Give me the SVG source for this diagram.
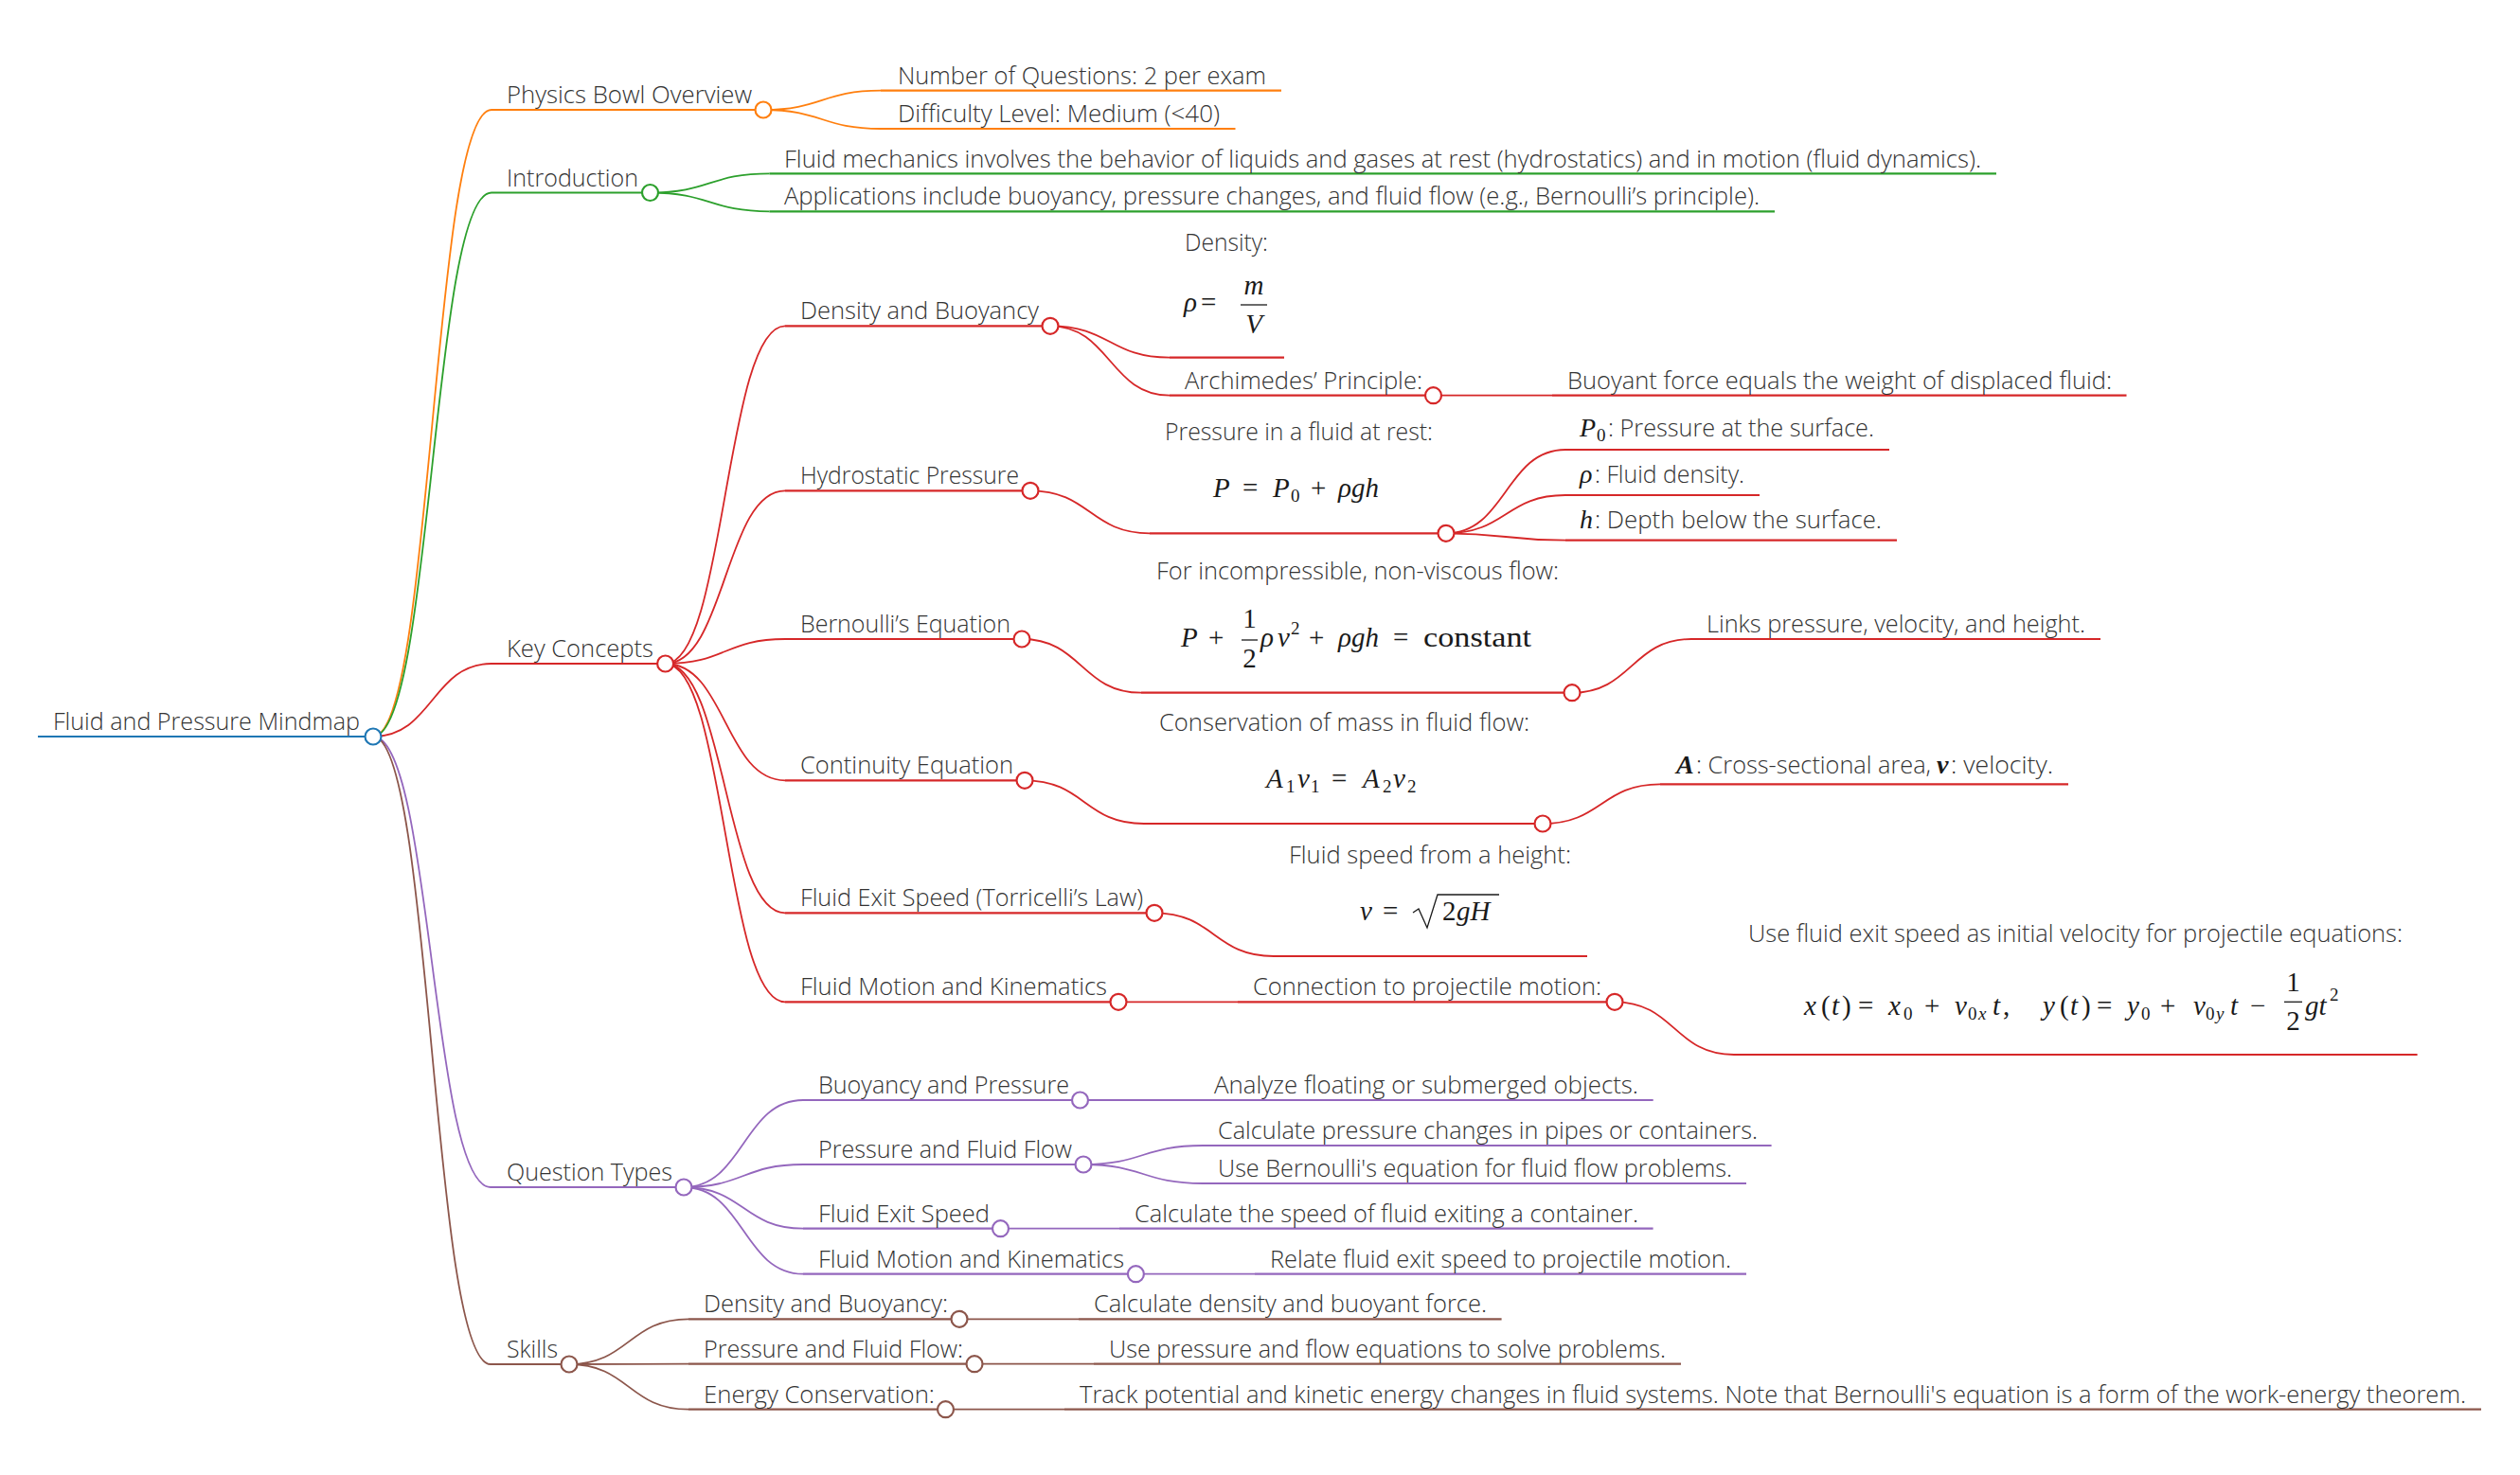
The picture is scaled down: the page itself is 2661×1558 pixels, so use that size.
<svg xmlns="http://www.w3.org/2000/svg" width="2661" height="1558" viewBox="0 0 2661 1558">
<style>
.t{font-family:"Open Sans","Segoe UI","Noto Sans",sans-serif;font-weight:300;font-size:25px;fill:#333}
.m{font-family:"Liberation Serif","DejaVu Serif",serif;font-size:29px;fill:#1a1a1a}
.mi{font-family:"Liberation Serif","DejaVu Serif",serif;font-size:28px;fill:#1a1a1a;font-style:italic}
.i{font-style:italic}
.s{font-size:19px}
.u{fill:none;stroke-width:2.2}
.l{fill:none;stroke-width:1.8}
.c{fill:#fff;stroke-width:2.2}
.bar{stroke:#1a1a1a;stroke-width:1.3;fill:none}
.b{stroke:#1f77b4}.o{stroke:#ff7f0e}.g{stroke:#2ca02c}.r{stroke:#d62728}.p{stroke:#9467bd}.n{stroke:#8c564b}
</style>
<rect width="2661" height="1558" fill="#fff"/>
<g id="connectors">
<path class="l o" d="M394,778 C456.5,778 456.5,116 519,116"/>
<path class="l g" d="M394,778 C456.5,778 456.5,203.5 519,203.5"/>
<path class="l r" d="M394,778 C456.5,778 456.5,701 519,701"/>
<path class="l p" d="M394,778 C456,778 456,1254 518,1254"/>
<path class="l n" d="M394,778 C456,778 456,1441 518,1441"/>
<path class="l o" d="M806,116 C868,116 868,95.7 930,95.7"/>
<path class="l o" d="M806,116 C868,116 868,136 930,136"/>
<path class="l g" d="M686.5,203.5 C749.5,203.5 749.5,183.3 812.5,183.3"/>
<path class="l g" d="M686.5,203.5 C749.5,203.5 749.5,223.3 812.5,223.3"/>
<path class="l r" d="M702.6,701 C765.8,701 765.8,344.3 829,344.3"/>
<path class="l r" d="M702.6,701 C765.8,701 765.8,518.3 829,518.3"/>
<path class="l r" d="M702.6,701 C765.8,701 765.8,675 829,675"/>
<path class="l r" d="M702.6,701 C765.8,701 765.8,824.3 829,824.3"/>
<path class="l r" d="M702.6,701 C765.8,701 765.8,964.3 829,964.3"/>
<path class="l r" d="M702.6,701 C765.8,701 765.8,1058.3 829,1058.3"/>
<path class="l r" d="M1109,344.3 C1172,344.3 1172,377.7 1235,377.7"/>
<path class="l r" d="M1109,344.3 C1172,344.3 1172,417.7 1235,417.7"/>
<path class="l r" d="M1513.5,417.7 H1639"/>
<path class="l r" d="M1088,518.3 C1151,518.3 1151,563.3 1214,563.3"/>
<path class="l r" d="M1527,563.3 C1590,563.3 1590,475 1653,475"/>
<path class="l r" d="M1527,563.3 C1590,563.3 1590,523 1653,523"/>
<path class="l r" d="M1527,563.3 C1590,563.3 1590,570.7 1653,570.7"/>
<path class="l r" d="M1079,675 C1142,675 1142,731.7 1205,731.7"/>
<path class="l r" d="M1660,731.7 C1723,731.7 1723,675 1786,675"/>
<path class="l r" d="M1082,824.3 C1145,824.3 1145,870 1208,870"/>
<path class="l r" d="M1629,870 C1691,870 1691,828.3 1753,828.3"/>
<path class="l r" d="M1219,964.3 C1282,964.3 1282,1010 1345,1010"/>
<path class="l r" d="M1181,1058.3 H1307"/>
<path class="l r" d="M1705,1058.3 C1768,1058.3 1768,1114 1831,1114"/>
<path class="l p" d="M722,1254 C785,1254 785,1162 848,1162"/>
<path class="l p" d="M722,1254 C785,1254 785,1230 848,1230"/>
<path class="l p" d="M722,1254 C785,1254 785,1297.7 848,1297.7"/>
<path class="l p" d="M722,1254 C785,1254 785,1345.7 848,1345.7"/>
<path class="l p" d="M1140.5,1162 H1266"/>
<path class="l p" d="M1144,1230 C1207,1230 1207,1210 1270,1210"/>
<path class="l p" d="M1144,1230 C1207,1230 1207,1250 1270,1250"/>
<path class="l p" d="M1056.5,1297.7 H1182"/>
<path class="l p" d="M1199.4,1345.7 H1325"/>
<path class="l n" d="M601,1441 C664,1441 664,1393.3 727,1393.3"/>
<path class="l n" d="M601,1441 C664,1441 664,1440.7 727,1440.7"/>
<path class="l n" d="M601,1441 C664,1441 664,1488.7 727,1488.7"/>
<path class="l n" d="M1013,1393.3 H1139"/>
<path class="l n" d="M1029,1440.7 H1155"/>
<path class="l n" d="M998.5,1488.7 H1124"/>
</g>

<g id="root">
<path class="u b" d="M40,778 H394" stroke-width="3"/>
<text class="t" x="56" y="771" textLength="324" lengthAdjust="spacingAndGlyphs">Fluid and Pressure Mindmap</text>
<circle class="c b" cx="394" cy="778" r="8.5"/>
</g>

<g id="physics-bowl">
<path class="u o" d="M519,116 H806"/>
<text class="t" x="535" y="109" textLength="259" lengthAdjust="spacingAndGlyphs">Physics Bowl Overview</text>
<circle class="c o" cx="806" cy="116" r="8.5"/>
</g>
<g id="pb-questions">
<path class="u o" d="M930,95.7 H1353"/>
<text class="t" x="948" y="89" textLength="389" lengthAdjust="spacingAndGlyphs">Number of Questions: 2 per exam</text>
</g>
<g id="pb-difficulty">
<path class="u o" d="M930,136 H1304.5"/>
<text class="t" x="948" y="129" textLength="340" lengthAdjust="spacingAndGlyphs">Difficulty Level: Medium (&lt;40)</text>
</g>

<g id="introduction">
<path class="u g" d="M519,203.5 H686.5"/>
<text class="t" x="535" y="196.5" textLength="139" lengthAdjust="spacingAndGlyphs">Introduction</text>
<circle class="c g" cx="686.5" cy="203.5" r="8.5"/>
</g>
<g id="intro-1">
<path class="u g" d="M812.5,183.3 H2108"/>
<text class="t" x="828" y="176.5" textLength="1264" lengthAdjust="spacingAndGlyphs">Fluid mechanics involves the behavior of liquids and gases at rest (hydrostatics) and in motion (fluid dynamics).</text>
</g>
<g id="intro-2">
<path class="u g" d="M812.5,223.3 H1874"/>
<text class="t" x="828" y="216" textLength="1030" lengthAdjust="spacingAndGlyphs">Applications include buoyancy, pressure changes, and fluid flow (e.g., Bernoulli’s principle).</text>
</g>

<g id="key-concepts">
<path class="u r" d="M519,701 H702.6"/>
<text class="t" x="535" y="694" textLength="155" lengthAdjust="spacingAndGlyphs">Key Concepts</text>
<circle class="c r" cx="702.6" cy="701" r="8.5"/>
</g>

<g id="density-buoyancy">
<path class="u r" d="M829,344.3 H1109"/>
<text class="t" x="845" y="337" textLength="252" lengthAdjust="spacingAndGlyphs">Density and Buoyancy</text>
<circle class="c r" cx="1109" cy="344.3" r="8.5"/>
</g>
<g id="density-formula">
<path class="u r" d="M1235,377.7 H1356"/>
<text class="t" x="1251" y="265" textLength="88" lengthAdjust="spacingAndGlyphs">Density:</text>
<text class="m i" x="1250" y="329">ρ</text>
<text class="m" x="1268" y="329">=</text>
<text class="m i" x="1324" y="310.7" text-anchor="middle">m</text>
<line class="bar" x1="1310" y1="322" x2="1338" y2="322"/>
<text class="m i" x="1324" y="351.7" text-anchor="middle">V</text>
</g>
<g id="archimedes">
<path class="u r" d="M1235,417.7 H1513.5"/>
<text class="t" x="1251" y="410.7" textLength="251" lengthAdjust="spacingAndGlyphs">Archimedes’ Principle:</text>
<circle class="c r" cx="1513.5" cy="417.7" r="8.5"/>
</g>
<g id="buoyant-force">
<path class="u r" d="M1639,417.7 H2245.5"/>
<text class="t" x="1655" y="410.7" textLength="575" lengthAdjust="spacingAndGlyphs">Buoyant force equals the weight of displaced fluid:</text>
</g>

<g id="hydrostatic">
<path class="u r" d="M829,518.3 H1088"/>
<text class="t" x="845" y="511" textLength="231" lengthAdjust="spacingAndGlyphs">Hydrostatic Pressure</text>
<circle class="c r" cx="1088" cy="518.3" r="8.5"/>
</g>
<g id="hydro-formula">
<path class="u r" d="M1214,563.3 H1527"/>
<text class="t" x="1230" y="465" textLength="283" lengthAdjust="spacingAndGlyphs">Pressure in a fluid at rest:</text>
<text class="m" y="525"><tspan class="i" x="1281">P</tspan><tspan x="1312">=</tspan><tspan class="i" x="1344">P</tspan><tspan class="s" x="1363" dy="5">0</tspan><tspan x="1384" dy="-5">+</tspan><tspan class="i" x="1413">ρgh</tspan></text>
<circle class="c r" cx="1527" cy="563.3" r="8.5"/>
</g>
<g id="p0">
<path class="u r" d="M1653,475 H1995"/>
<text class="mi" x="1668" y="460.7">P</text><text class="m s" x="1686" y="466">0</text>
<text class="t" x="1698" y="460.7" textLength="281" lengthAdjust="spacingAndGlyphs">: Pressure at the surface.</text>
</g>
<g id="rho">
<path class="u r" d="M1653,523 H1858"/>
<text class="mi" x="1668" y="510">ρ</text>
<text class="t" x="1684" y="510" textLength="158" lengthAdjust="spacingAndGlyphs">: Fluid density.</text>
</g>
<g id="h-depth">
<path class="u r" d="M1653,570.7 H2003"/>
<text class="mi" x="1668" y="557.7">h</text>
<text class="t" x="1684" y="557.7" textLength="303" lengthAdjust="spacingAndGlyphs">: Depth below the surface.</text>
</g>

<g id="bernoulli">
<path class="u r" d="M829,675 H1079"/>
<text class="t" x="845" y="668" textLength="222" lengthAdjust="spacingAndGlyphs">Bernoulli’s Equation</text>
<circle class="c r" cx="1079" cy="675" r="8.5"/>
</g>
<g id="bernoulli-formula">
<path class="u r" d="M1205,731.7 H1660"/>
<text class="t" x="1221" y="611.7" textLength="425" lengthAdjust="spacingAndGlyphs">For incompressible, non-viscous flow:</text>
<text class="m" y="683"><tspan class="i" x="1247">P</tspan><tspan x="1276">+</tspan><tspan class="i" x="1331">ρ</tspan><tspan class="i" x="1349">v</tspan><tspan class="s" x="1363" dy="-13">2</tspan><tspan x="1382" dy="13">+</tspan><tspan class="i" x="1413">ρgh</tspan><tspan x="1471">=</tspan></text>
<text class="m" x="1503" y="683" textLength="114" lengthAdjust="spacingAndGlyphs">constant</text>
<text class="m" x="1319.5" y="663" text-anchor="middle">1</text>
<line class="bar" x1="1311" y1="676" x2="1328" y2="676"/>
<text class="m" x="1319.5" y="705" text-anchor="middle">2</text>
<circle class="c r" cx="1660" cy="731.7" r="8.5"/>
</g>
<g id="links-pvh">
<path class="u r" d="M1786,675 H2218"/>
<text class="t" x="1802" y="668" textLength="400" lengthAdjust="spacingAndGlyphs">Links pressure, velocity, and height.</text>
</g>

<g id="continuity">
<path class="u r" d="M829,824.3 H1082"/>
<text class="t" x="845" y="817" textLength="225" lengthAdjust="spacingAndGlyphs">Continuity Equation</text>
<circle class="c r" cx="1082" cy="824.3" r="8.5"/>
</g>
<g id="continuity-formula">
<path class="u r" d="M1208,870 H1629"/>
<text class="t" x="1224" y="771.7" textLength="391" lengthAdjust="spacingAndGlyphs">Conservation of mass in fluid flow:</text>
<text class="m" y="831.7"><tspan class="i" x="1337">A</tspan><tspan class="s" x="1358" dy="5">1</tspan><tspan class="i" x="1370" dy="-5">v</tspan><tspan class="s" x="1384" dy="5">1</tspan><tspan x="1406" dy="-5">=</tspan><tspan class="i" x="1439">A</tspan><tspan class="s" x="1460" dy="5">2</tspan><tspan class="i" x="1471" dy="-5">v</tspan><tspan class="s" x="1486" dy="5">2</tspan></text>
<circle class="c r" cx="1629" cy="870" r="8.5"/>
</g>
<g id="area-velocity">
<path class="u r" d="M1753,828.3 H2184"/>
<text class="mi" x="1770" y="816.7" font-weight="bold" font-size="30">A</text>
<text class="t" x="1791" y="816.7" textLength="248" lengthAdjust="spacingAndGlyphs">: Cross-sectional area,</text>
<text class="mi" x="2045" y="816.7" font-weight="bold" font-size="30">v</text>
<text class="t" x="2060" y="816.7" textLength="108" lengthAdjust="spacingAndGlyphs">: velocity.</text>
</g>

<g id="torricelli">
<path class="u r" d="M829,964.3 H1219"/>
<text class="t" x="845" y="957" textLength="362" lengthAdjust="spacingAndGlyphs">Fluid Exit Speed (Torricelli’s Law)</text>
<circle class="c r" cx="1219" cy="964.3" r="8.5"/>
</g>
<g id="torricelli-formula">
<path class="u r" d="M1345,1010 H1676"/>
<text class="t" x="1361" y="911.7" textLength="298" lengthAdjust="spacingAndGlyphs">Fluid speed from a height:</text>
<text class="m" y="971.7"><tspan class="i" x="1436">v</tspan><tspan x="1460">=</tspan><tspan x="1523">2</tspan><tspan class="i" x="1538">gH</tspan></text>
<path class="bar" stroke-width="1.6" d="M1492,964 L1498,960 L1507,980 L1518,945 H1583"/>
</g>

<g id="fluid-motion">
<path class="u r" d="M829,1058.3 H1181"/>
<text class="t" x="845" y="1051" textLength="324" lengthAdjust="spacingAndGlyphs">Fluid Motion and Kinematics</text>
<circle class="c r" cx="1181" cy="1058.3" r="8.5"/>
</g>
<g id="projectile-connection">
<path class="u r" d="M1307,1058.3 H1705"/>
<text class="t" x="1323" y="1051" textLength="368" lengthAdjust="spacingAndGlyphs">Connection to projectile motion:</text>
<circle class="c r" cx="1705" cy="1058.3" r="8.5"/>
</g>
<g id="projectile-formula">
<path class="u r" d="M1831,1114 H2552.6"/>
<text class="t" x="1846" y="995" textLength="691" lengthAdjust="spacingAndGlyphs">Use fluid exit speed as initial velocity for projectile equations:</text>
<text class="m" y="1071.7"><tspan class="i" x="1905">x</tspan><tspan x="1923">(</tspan><tspan class="i" x="1934">t</tspan><tspan x="1945">)</tspan><tspan x="1962">=</tspan><tspan class="i" x="1994">x</tspan><tspan class="s" x="2010" dy="5">0</tspan><tspan x="2032" dy="-5">+</tspan><tspan class="i" x="2064">v</tspan><tspan class="s" x="2078" dy="5">0</tspan><tspan class="s i" x="2089">x</tspan><tspan class="i" x="2104" dy="-5">t</tspan><tspan x="2115">,</tspan><tspan class="i" x="2157">y</tspan><tspan x="2175">(</tspan><tspan class="i" x="2186">t</tspan><tspan x="2198">)</tspan><tspan x="2214">=</tspan><tspan class="i" x="2246">y</tspan><tspan class="s" x="2261" dy="5">0</tspan><tspan x="2281" dy="-5">+</tspan><tspan class="i" x="2316">v</tspan><tspan class="s" x="2329" dy="5">0</tspan><tspan class="s i" x="2340">y</tspan><tspan class="i" x="2355" dy="-5">t</tspan><tspan x="2376">−</tspan><tspan class="i" x="2434">gt</tspan><tspan class="s" x="2460" dy="-15">2</tspan></text>
<text class="m" x="2421.5" y="1046.7" text-anchor="middle">1</text>
<line class="bar" x1="2412" y1="1058.3" x2="2431" y2="1058.3"/>
<text class="m" x="2421.5" y="1088" text-anchor="middle">2</text>
</g>

<g id="question-types">
<path class="u p" d="M518,1254 H722"/>
<text class="t" x="535" y="1247" textLength="175" lengthAdjust="spacingAndGlyphs">Question Types</text>
<circle class="c p" cx="722" cy="1254" r="8.5"/>
</g>
<g id="qt-buoyancy">
<path class="u p" d="M848,1162 H1140.5"/>
<text class="t" x="864" y="1155" textLength="265" lengthAdjust="spacingAndGlyphs">Buoyancy and Pressure</text>
<circle class="c p" cx="1140.5" cy="1162" r="8.5"/>
</g>
<g id="qt-buoyancy-1">
<path class="u p" d="M1266,1162 H1745.7"/>
<text class="t" x="1282" y="1155" textLength="448" lengthAdjust="spacingAndGlyphs">Analyze floating or submerged objects.</text>
</g>
<g id="qt-pressure">
<path class="u p" d="M848,1230 H1144"/>
<text class="t" x="864" y="1223" textLength="268" lengthAdjust="spacingAndGlyphs">Pressure and Fluid Flow</text>
<circle class="c p" cx="1144" cy="1230" r="8.5"/>
</g>
<g id="qt-pressure-1">
<path class="u p" d="M1270,1210 H1870.6"/>
<text class="t" x="1286" y="1203" textLength="570" lengthAdjust="spacingAndGlyphs">Calculate pressure changes in pipes or containers.</text>
</g>
<g id="qt-pressure-2">
<path class="u p" d="M1270,1250 H1844"/>
<text class="t" x="1286" y="1243" textLength="543" lengthAdjust="spacingAndGlyphs">Use Bernoulli's equation for fluid flow problems.</text>
</g>
<g id="qt-exit">
<path class="u p" d="M848,1297.7 H1056.5"/>
<text class="t" x="864" y="1290.7" textLength="181" lengthAdjust="spacingAndGlyphs">Fluid Exit Speed</text>
<circle class="c p" cx="1056.5" cy="1297.7" r="8.5"/>
</g>
<g id="qt-exit-1">
<path class="u p" d="M1182,1297.7 H1745.6"/>
<text class="t" x="1198" y="1290.7" textLength="532" lengthAdjust="spacingAndGlyphs">Calculate the speed of fluid exiting a container.</text>
</g>
<g id="qt-motion">
<path class="u p" d="M848,1345.7 H1199.4"/>
<text class="t" x="864" y="1338.7" textLength="323" lengthAdjust="spacingAndGlyphs">Fluid Motion and Kinematics</text>
<circle class="c p" cx="1199.4" cy="1345.7" r="8.5"/>
</g>
<g id="qt-motion-1">
<path class="u p" d="M1325,1345.7 H1844"/>
<text class="t" x="1341" y="1338.7" textLength="487" lengthAdjust="spacingAndGlyphs">Relate fluid exit speed to projectile motion.</text>
</g>

<g id="skills">
<path class="u n" d="M518,1441 H601"/>
<text class="t" x="535" y="1434" textLength="54" lengthAdjust="spacingAndGlyphs">Skills</text>
<circle class="c n" cx="601" cy="1441" r="8.5"/>
</g>
<g id="sk-density">
<path class="u n" d="M727,1393.3 H1013"/>
<text class="t" x="743" y="1386.3" textLength="258" lengthAdjust="spacingAndGlyphs">Density and Buoyancy:</text>
<circle class="c n" cx="1013" cy="1393.3" r="8.5"/>
</g>
<g id="sk-density-1">
<path class="u n" d="M1139,1393.3 H1585.6"/>
<text class="t" x="1155" y="1386.3" textLength="415" lengthAdjust="spacingAndGlyphs">Calculate density and buoyant force.</text>
</g>
<g id="sk-pressure">
<path class="u n" d="M727,1440.7 H1029"/>
<text class="t" x="743" y="1433.7" textLength="274" lengthAdjust="spacingAndGlyphs">Pressure and Fluid Flow:</text>
<circle class="c n" cx="1029" cy="1440.7" r="8.5"/>
</g>
<g id="sk-pressure-1">
<path class="u n" d="M1155,1440.7 H1775"/>
<text class="t" x="1171" y="1433.7" textLength="588" lengthAdjust="spacingAndGlyphs">Use pressure and flow equations to solve problems.</text>
</g>
<g id="sk-energy">
<path class="u n" d="M727,1488.7 H998.5"/>
<text class="t" x="743" y="1481.7" textLength="244" lengthAdjust="spacingAndGlyphs">Energy Conservation:</text>
<circle class="c n" cx="998.5" cy="1488.7" r="8.5"/>
</g>
<g id="sk-energy-1">
<path class="u n" d="M1124,1488.7 H2620"/>
<text class="t" x="1140" y="1481.7" textLength="1464" lengthAdjust="spacingAndGlyphs">Track potential and kinetic energy changes in fluid systems. Note that Bernoulli's equation is a form of the work-energy theorem.</text>
</g>
</svg>
